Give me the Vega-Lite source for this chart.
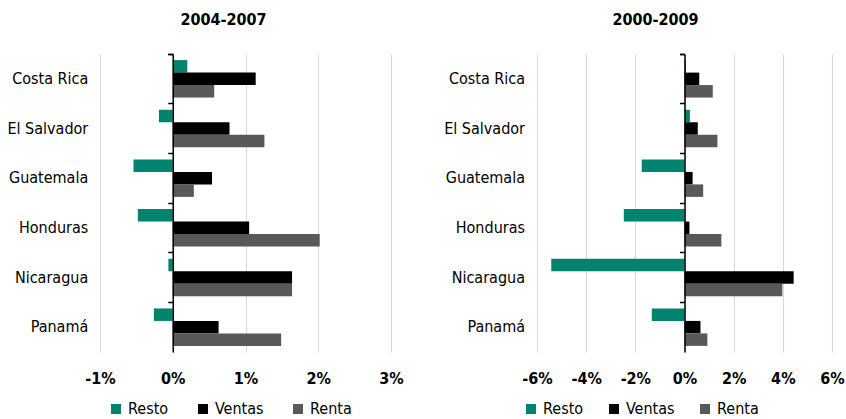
{
  "$schema": "https://vega.github.io/schema/vega-lite/v6.json",
  "background": "white",
  "padding": {"left": 6, "top": 12, "right": 5, "bottom": 5},
  "config": {
    "font": "DejaVu Sans Condensed, Roboto",
    "view": {"stroke": null},
    "concat": {"spacing": 39},
    "axis": {"labelColor": "#000000"},
    "legend": {"labelColor": "#000000"}
  },
  "datasets": {
    "a": [
      {"pais": "Costa Rica", "serie": "Resto", "valor": 0.2},
      {"pais": "Costa Rica", "serie": "Ventas", "valor": 1.14},
      {"pais": "Costa Rica", "serie": "Renta", "valor": 0.57},
      {"pais": "El Salvador", "serie": "Resto", "valor": -0.19},
      {"pais": "El Salvador", "serie": "Ventas", "valor": 0.78},
      {"pais": "El Salvador", "serie": "Renta", "valor": 1.26},
      {"pais": "Guatemala", "serie": "Resto", "valor": -0.54},
      {"pais": "Guatemala", "serie": "Ventas", "valor": 0.54},
      {"pais": "Guatemala", "serie": "Renta", "valor": 0.29},
      {"pais": "Honduras", "serie": "Resto", "valor": -0.48},
      {"pais": "Honduras", "serie": "Ventas", "valor": 1.05},
      {"pais": "Honduras", "serie": "Renta", "valor": 2.02},
      {"pais": "Nicaragua", "serie": "Resto", "valor": -0.06},
      {"pais": "Nicaragua", "serie": "Ventas", "valor": 1.64},
      {"pais": "Nicaragua", "serie": "Renta", "valor": 1.64},
      {"pais": "Panamá", "serie": "Resto", "valor": -0.26},
      {"pais": "Panamá", "serie": "Ventas", "valor": 0.63},
      {"pais": "Panamá", "serie": "Renta", "valor": 1.49}
    ],
    "b": [
      {"pais": "Costa Rica", "serie": "Resto", "valor": 0.05},
      {"pais": "Costa Rica", "serie": "Ventas", "valor": 0.6},
      {"pais": "Costa Rica", "serie": "Renta", "valor": 1.15},
      {"pais": "El Salvador", "serie": "Resto", "valor": 0.22},
      {"pais": "El Salvador", "serie": "Ventas", "valor": 0.54},
      {"pais": "El Salvador", "serie": "Renta", "valor": 1.34},
      {"pais": "Guatemala", "serie": "Resto", "valor": -1.74},
      {"pais": "Guatemala", "serie": "Ventas", "valor": 0.33},
      {"pais": "Guatemala", "serie": "Renta", "valor": 0.76},
      {"pais": "Honduras", "serie": "Resto", "valor": -2.47},
      {"pais": "Honduras", "serie": "Ventas", "valor": 0.2},
      {"pais": "Honduras", "serie": "Renta", "valor": 1.5},
      {"pais": "Nicaragua", "serie": "Resto", "valor": -5.42},
      {"pais": "Nicaragua", "serie": "Ventas", "valor": 4.44},
      {"pais": "Nicaragua", "serie": "Renta", "valor": 3.98},
      {"pais": "Panamá", "serie": "Resto", "valor": -1.33},
      {"pais": "Panamá", "serie": "Ventas", "valor": 0.65},
      {"pais": "Panamá", "serie": "Renta", "valor": 0.93}
    ]
  },
  "hconcat": [
    {
      "width": 291,
      "height": 298,
      "title": {"text": "2004-2007", "fontSize": 16, "fontWeight": "bold", "dx": -22, "offset": 18, "color": "#000000"},
      "data": {"name": "a"},
      "mark": {"type": "bar"},
      "encoding": {
        "y": {
          "field": "pais", "type": "nominal", "sort": null,
          "scale": {"paddingInner": 0, "paddingOuter": 0},
          "axis": {"title": null, "offset": -72.75, "labelPadding": 80, "tickSize": 5, "bandPosition": 0, "tickExtra": true,
                   "domainColor": "#000000", "tickColor": "#000000", "domainWidth": 1.5, "tickWidth": 1.5,
                   "labelFontSize": 16, "grid": false, "zindex": 1}
        },
        "yOffset": {"field": "serie", "sort": ["Resto", "Ventas", "Renta"], "scale": {"paddingOuter": 0.49, "paddingInner": 0}},
        "x": {
          "field": "valor", "type": "quantitative",
          "scale": {"domain": [-1, 3], "nice": false},
          "axis": {"values": [-1, 0, 1, 2, 3], "labelExpr": "datum.value + '%'", "labelFlush": false, "title": null, "domain": false, "ticks": false,
                   "grid": true, "gridColor": "#d9d9d9", "gridWidth": 1.2, "labelFontWeight": "bold", "labelFontSize": 16, "labelPadding": 18}
        },
        "color": {
          "field": "serie", "type": "nominal",
          "scale": {"domain": ["Resto", "Ventas", "Renta"], "range": ["#00846f", "#000000", "#595959"]},
          "legend": {"title": null, "orient": "none", "legendX": 8, "legendY": 347, "direction": "horizontal", "columns": 3,
                     "symbolType": "square", "symbolSize": 100, "symbolStrokeWidth": 0, "labelFontSize": 16, "columnPadding": 26, "labelOffset": 4}
        }
      }
    },
    {
      "width": 295,
      "height": 298,
      "title": {"text": "2000-2009", "fontSize": 16, "fontWeight": "bold", "dx": -29, "offset": 18, "color": "#000000"},
      "data": {"name": "b"},
      "mark": {"type": "bar"},
      "encoding": {
        "y": {
          "field": "pais", "type": "nominal", "sort": null,
          "scale": {"paddingInner": 0, "paddingOuter": 0},
          "axis": {"title": null, "offset": -147.5, "labelPadding": 155, "tickSize": 5, "bandPosition": 0, "tickExtra": true,
                   "domainColor": "#000000", "tickColor": "#000000", "domainWidth": 1.5, "tickWidth": 1.5,
                   "labelFontSize": 16, "grid": false, "zindex": 1}
        },
        "yOffset": {"field": "serie", "sort": ["Resto", "Ventas", "Renta"], "scale": {"paddingOuter": 0.49, "paddingInner": 0}},
        "x": {
          "field": "valor", "type": "quantitative",
          "scale": {"domain": [-6, 6], "nice": false},
          "axis": {"values": [-6, -4, -2, 0, 2, 4, 6], "labelExpr": "datum.value + '%'", "labelFlush": false, "title": null, "domain": false, "ticks": false,
                   "grid": true, "gridColor": "#d9d9d9", "gridWidth": 1.2, "labelFontWeight": "bold", "labelFontSize": 16, "labelPadding": 18}
        },
        "color": {
          "field": "serie", "type": "nominal",
          "scale": {"domain": ["Resto", "Ventas", "Renta"], "range": ["#00846f", "#000000", "#595959"]},
          "legend": {"title": null, "orient": "none", "legendX": -14, "legendY": 347, "direction": "horizontal", "columns": 3,
                     "symbolType": "square", "symbolSize": 100, "symbolStrokeWidth": 0, "labelFontSize": 16, "columnPadding": 22, "labelOffset": 4}
        }
      }
    }
  ],
  "resolve": {"scale": {"color": "independent", "x": "independent", "y": "independent"}, "legend": {"color": "independent"}}
}
